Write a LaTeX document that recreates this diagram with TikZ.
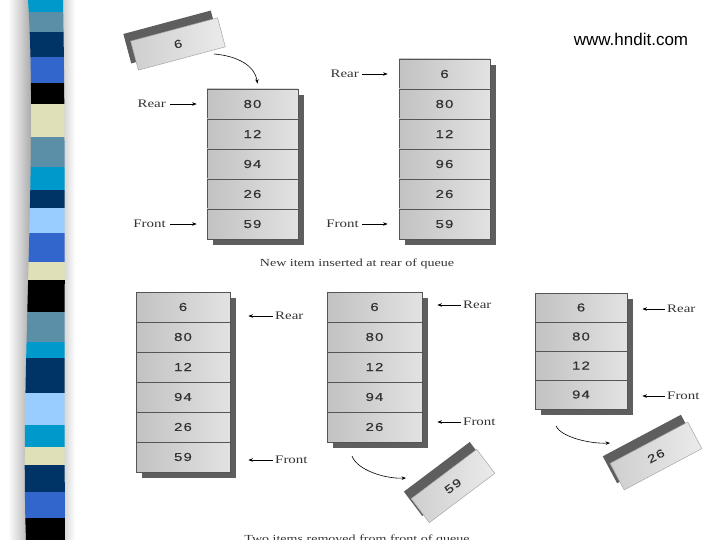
\documentclass[tikz,border=0pt]{standalone}
\usepackage{fontspec}
\setmainfont{Liberation Serif}
\newfontfamily\cellfont[FakeStretch=1.3, LetterSpace=10, FakeBold=0.4]{Liberation Sans}
\newfontfamily\labfont[FakeStretch=1.3]{Liberation Serif}
\newfontfamily\webfont{Liberation Sans}
\usetikzlibrary{positioning, arrows.meta, backgrounds}

\definecolor{cellL}{HTML}{C2C2C2}
\definecolor{cellR}{HTML}{E2E2E2}
\definecolor{edgegray}{HTML}{555555}
\definecolor{sidegray}{HTML}{5E5E5E}
\definecolor{inktext}{HTML}{333333}
\definecolor{stcyan}{HTML}{0099CC}
\definecolor{ststeel}{HTML}{5B8FA8}
\definecolor{stnavy}{HTML}{003366}
\definecolor{stroyal}{HTML}{3366CC}
\definecolor{stbeige}{HTML}{E0E0B8}
\definecolor{stlight}{HTML}{99CCFF}

\begin{document}
\begin{tikzpicture}[x=1pt, y=-1pt,
    cell/.style={draw=edgegray, line width=0.8pt, left color=cellL, right color=cellR,
      minimum height=30pt, inner sep=0pt, text=inktext, font=\cellfont\fontsize{11.5}{11.5}\selectfont},
    lab/.style={inner sep=1pt, text=inktext, font=\labfont\fontsize{11.5}{13}\selectfont},
    arr/.style={-{Stealth[length=4.5pt, width=3.5pt]}, line width=0.6pt},
    boxface/.style={draw=gray!70, line width=0.5pt, left color=cellL!80, right color=cellR!70,
      minimum width=88pt, minimum height=30pt, inner sep=0pt, text=inktext,
      font=\cellfont\fontsize{11.5}{11.5}\selectfont}]
  \path[use as bounding box] (0,0) rectangle (720,540);
  \clip (0,0) rectangle (720,540);

  % striped bar on the left
  \shade[left color=white, right color=gray!75] (8,0) rectangle (34,540);
  \shade[left color=gray!45, right color=white] (60,0) rectangle (75,540);
  \begin{scope}
    \clip (28,0) .. controls (38,150) and (20,380) .. (26,540) -- (65,540)
      .. controls (64,400) and (66,150) .. (63,0) -- cycle;
    \foreach \ya/\yb/\c in {0/12/stcyan, 12/32/ststeel, 32/57/stnavy, 57/83/stroyal,
        83/104/black, 104/137/stbeige, 137/167/ststeel, 167/190/stcyan, 190/208/stnavy,
        208/233/stlight, 233/262/stroyal, 262/280/stbeige, 280/312/black, 312/342/ststeel,
        342/358/stcyan, 358/393/stnavy, 393/425/stlight, 425/447/stcyan, 447/465/stbeige,
        465/492/stnavy, 492/518/stroyal, 518/540/black}
      \fill[\c] (20,\ya) rectangle (70,\yb);
  \end{scope}

  \node[font=\webfont\fontsize{17}{17}\selectfont] (web) at (631,39) {www.hndit.com};

  % queue before insertion
  \foreach \v [count=\i] in {80,12,94,26,59}
    \node[cell, minimum width=91pt] (a\i) at (252.5,74+30*\i) {\v};
  \node[lab, anchor=east] (ra) at (167,104) {Rear};
  \node[lab, anchor=east] (fa) at (167,224) {Front};
  \draw[arr, shorten <=3pt, shorten >=10pt] (ra) -- (a1);
  \draw[arr, shorten <=3pt, shorten >=10pt] (fa) -- (a5);

  % item 6 on its way in
  \node[boxface, minimum width=90pt, rotate=15] (new6) at (178,44) {6};
  \coordinate (from6) at (214,54);
  \draw[arr] (from6) .. controls (238,56) and (255,66) .. ([shift={(5,-5)}]a1.north);

  % queue after insertion
  \foreach \v [count=\i] in {6,80,12,96,26,59}
    \node[cell, minimum width=91pt] (b\i) at (444.5,44+30*\i) {\v};
  \node[lab, anchor=east] (rb) at (360,74) {Rear};
  \node[lab, anchor=east] (fb) at (360,224) {Front};
  \draw[arr, shorten <=2pt, shorten >=11pt] (rb) -- (b1);
  \draw[arr, shorten <=2pt, shorten >=11pt] (fb) -- (b6);

  \node[lab, font=\labfont\fontsize{10.8}{12}\selectfont] (cap1) at (357,264) {New item inserted at rear of queue};

  % before removal
  \foreach \v [count=\i] in {6,80,12,94,26,59}
    \node[cell, minimum width=94pt] (c\i) at (183,277+30*\i) {\v};
  \node[lab, anchor=west] (rc) at (274,316) {Rear};
  \node[lab, anchor=west] (fc) at (274,460) {Front};
  \draw[arr, shorten <=1pt, shorten >=18pt] (rc.west) -- (rc.west -| c1.east);
  \draw[arr, shorten <=1pt, shorten >=18pt] (fc.west) -- (fc.west -| c6.east);

  % first item removed
  \foreach \v [count=\i] in {6,80,12,94,26}
    \node[cell, minimum width=95pt] (d\i) at (374.5,277+30*\i) {\v};
  \node[lab, anchor=west] (rd) at (462,305) {Rear};
  \node[lab, anchor=west] (fd) at (462,422) {Front};
  \draw[arr, shorten <=1pt, shorten >=15pt] (rd.west) -- (rd.west -| d1.east);
  \draw[arr, shorten <=1pt, shorten >=15pt] (fd.west) -- (fd.west -| d5.east);
  \node[boxface, minimum width=82pt, rotate=37] (out59) at (453,486) {59};
  \coordinate (from59) at (352,456);
  \coordinate (to59) at (406,478);
  \draw[arr] (from59) .. controls (357,470) and (385,479) .. (to59);

  % second item removed
  \foreach \v [count=\i] in {6,80,12,94}
    \node[cell, minimum width=92pt, minimum height=29pt] (e\i) at (581,278.5+29*\i) {\v};
  \node[lab, anchor=west] (re) at (666,309) {Rear};
  \node[lab, anchor=west] (fe) at (666,396) {Front};
  \draw[arr, shorten <=1pt, shorten >=15pt] (re.west) -- (re.west -| e1.east);
  \draw[arr, shorten <=1pt, shorten >=15pt] (fe.west) -- (fe.west -| e4.east);
  \node[boxface, rotate=28] (out26) at (656,456) {26};
  \coordinate (from26) at (556,426);
  \coordinate (to26) at (610,443);
  \draw[arr] (from26) .. controls (561,437) and (590,444) .. (to26);

  \node[lab, anchor=base, font=\labfont\fontsize{10.8}{12}\selectfont] (cap2) at (357,542) {Two items removed from front of queue};

  % dark sides of the stacks and the loose items
  \begin{scope}[on background layer]
    \fill[sidegray] ([shift={(6,6)}]a1.north west) rectangle ([shift={(6,6)}]a5.south east);
    \fill[sidegray] ([shift={(6,6)}]b1.north west) rectangle ([shift={(6,6)}]b6.south east);
    \fill[sidegray] ([shift={(6,6)}]c1.north west) rectangle ([shift={(6,6)}]c6.south east);
    \fill[sidegray] ([shift={(6,6)}]d1.north west) rectangle ([shift={(6,6)}]d5.south east);
    \fill[sidegray] ([shift={(6,6)}]e1.north west) rectangle ([shift={(6,6)}]e4.south east);
    \foreach \n in {new6, out59, out26}
      \fill[sidegray] ([shift={(-7,-7)}]\n.north west) -- ([shift={(-7,-7)}]\n.north east)
        -- ([shift={(-7,-7)}]\n.south east) -- ([shift={(-7,-7)}]\n.south west) -- cycle;
  \end{scope}
\end{tikzpicture}
\end{document}
